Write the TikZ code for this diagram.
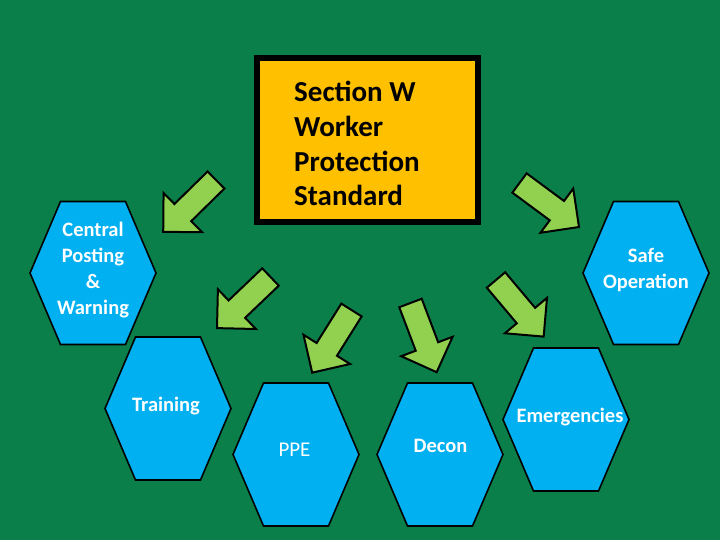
\documentclass[tikz,border=0pt]{standalone}
\usepackage{fontspec}
\setmainfont{Carlito}
\definecolor{bggreen}{HTML}{0B7F4A}
\definecolor{titleyellow}{HTML}{FFC000}
\definecolor{hexblue}{HTML}{00B0F0}
\definecolor{arrowgreen}{HTML}{92D050}
\tikzset{
  hexstyle/.style={fill=hexblue, draw=black, line width=1.6pt, line join=miter},
  hextext/.style={text=white, font=\fontsize{20.5}{26}\selectfont\bfseries, align=center, inner sep=0pt},
  arrowfill/.style={fill=arrowgreen, draw=black, line width=2pt, line join=miter},
  blockarrow/.pic={\draw[arrowfill] (0,12) -- (46.5,12) -- (46.5,27.5) -- (74,0) -- (46.5,-27.5) -- (46.5,-12) -- (0,-12) -- cycle;}
}
\newcommand{\myhex}[2]{\draw[hexstyle] (#1,#2) ++(-63,0) -- ++(30.5,71.5) -- ++(65,0) -- ++(30.5,-71.5) -- ++(-30.5,-71.5) -- ++(-65,0) -- cycle;}
\begin{document}
\begin{tikzpicture}[x=1pt,y=1pt]
\fill[bggreen] (0,0) rectangle (720,540);
\useasboundingbox (0,0) rectangle (720,540);
% title box
\draw[fill=titleyellow, draw=black, line width=6pt] (257,318) rectangle (478,482);
\node[anchor=base west, align=left, inner sep=0pt, font=\fontsize{29}{34.8}\selectfont\bfseries] (title) at (294,334)
  {Section W\\Worker\\Protection\\Standard};
% hexagons
\myhex{93}{267}
\myhex{646}{267}
\myhex{168}{131.5}
\myhex{296}{85.5}
\myhex{440}{85.5}
\myhex{566}{120.5}
\node[hextext] (cp) at (93,270) {Central\\Posting\\\&\\Warning};
\node[hextext] (safe) at (646,270) {Safe\\Operation};
\node[hextext] (train) at (166,134) {Training};
\node[hextext, font=\fontsize{21}{26}\selectfont] (ppe) at (294.5,90) {PPE};
\node[hextext] (decon) at (440.5,94) {Decon};
\node[hextext] (emer) at (570,123) {Emergencies};
% arrows
\pic[rotate=224.5] at (216,360) {blockarrow};
\pic[rotate=-36.5] at (519.5,357) {blockarrow};
\pic[rotate=223.7] at (270.5,263) {blockarrow};
\pic[rotate=237.9] at (351.5,230) {blockarrow};
\pic[rotate=-69.3] at (410.5,237) {blockarrow};
\pic[rotate=-49.9] at (496,260) {blockarrow};
\end{tikzpicture}
\end{document}
